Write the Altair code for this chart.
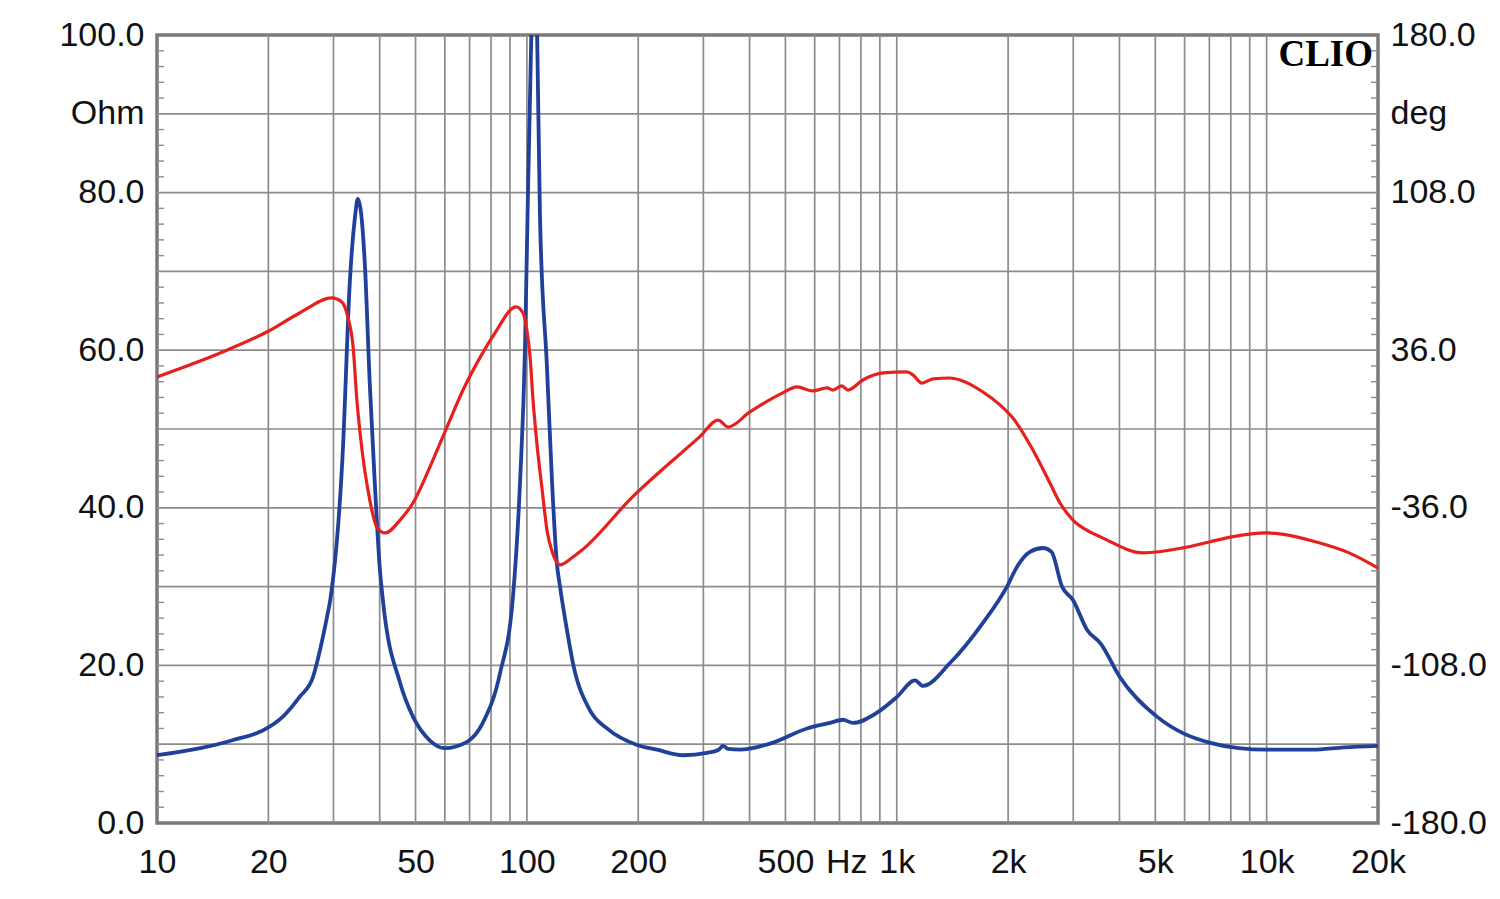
import altair as alt
import pandas as pd

# Impedance magnitude (Ohm) - blue
mag_freq = [10, 13.1, 16, 19.8, 21.9, 24.3, 26.4, 27.6, 28.8, 29.4, 31.8, 33.2, 34.3, 34.9, 35.6, 36.5, 37.6, 38.8, 40, 40.8,
            45.4, 49.2, 54.6, 60, 68.9, 76, 84.6, 91.7, 95.8, 98.8, 100.6, 102.8, 104.6, 106.6, 108.5, 113.3,
            117, 120.5, 122.9, 128.3, 133.2, 148.1, 164.7, 198.5, 224.7, 264.2, 306.9, 330, 338.9, 350, 376.8,
            462.8, 571.8, 659.8, 715.3, 761, 884, 1001, 1120, 1177, 1393, 1710, 1986, 2113, 2291, 2484, 2620,
            2797, 2995, 3271, 3555, 4012, 5051, 5937, 7000, 8400, 10000, 13300, 16200, 20000]
mag_ohm = [8.6, 9.5, 10.5, 12.0, 13.5, 16.0, 18.5, 22.0, 26.1, 28.3, 47.3, 68.5, 76.9, 79.2, 77.5, 70.6, 55.8, 43.1, 32.5, 28.3,
           17.8, 13.5, 10.5, 9.5, 10.3, 12.7, 19.0, 28.7, 43.1, 60.0, 79.1, 100, 115, 100, 76.9, 57.9,
           43.1, 33.0, 30.0, 24.5, 20.3, 14.3, 12.0, 9.9, 9.3, 8.6, 8.9, 9.3, 9.8, 9.4, 9.3,
           10.2, 12.0, 12.7, 13.1, 12.7, 14.0, 16.0, 18.1, 17.4, 20.3, 25.4, 30.0, 32.5, 34.4, 34.9, 34.4,
           30.0, 28.3, 24.5, 22.8, 18.5, 13.5, 11.4, 10.2, 9.5, 9.3, 9.3, 9.6, 9.8]

# Impedance phase (deg) - red
ph_freq = [10, 15.5, 19.8, 24.3, 29.7, 31.6, 32.8, 33.9, 34.7, 35.4, 37.6, 39.3, 41.4, 45.4, 49.2, 54.7, 60.8,
           67.2, 74.6, 82.9, 91.6, 93.5, 97.6, 100, 102, 103.9, 106.4, 110, 113.3, 117, 122.9, 133.2, 141,
           193, 293, 329, 349.8, 400.9, 492, 537,
           593.6, 647.6, 672, 710, 738, 810, 918, 1066, 1106, 1170, 1253, 1393, 1483, 1710, 1901, 2061,
           2334, 2595, 2763, 2995, 3328, 3555, 4640, 5937, 7000, 8045, 10000, 11000, 13600, 16700, 20000]
ph_deg = [23.8, 36.1, 44.3, 53.0, 59.9, 58.0, 51.2, 37.5, 13.3, -1.8, -32.4, -44.8, -47.5, -41.6, -33.8, -17.3, 0.9,
          17.8, 32.5, 45.2, 55.3, 55.8, 53.0, 45.2, 32.9, 13.3, -6.4, -27.9, -46.1, -56.0, -62.1, -58.5, -55.3,
          -31.0, -3.6, 4.1, 0.9, 7.8, 16.5, 19.2,
          17.4, 18.8, 17.8, 19.7, 17.8, 22.4, 25.6, 26.1, 24.7, 21.0, 22.9, 23.3, 22.4, 16.9, 11.0, 5.0,
          -9.6, -24.7, -33.8, -41.6, -47.0, -49.3, -56.6, -54.3, -51.6, -49.3, -47.5, -48.0, -51.6, -56.6, -63.5]

grid_freqs = [20, 30, 40, 50, 60, 70, 80, 90, 100, 200, 300, 400, 500, 600, 700, 800, 900, 1000,
              2000, 3000, 4000, 5000, 6000, 7000, 8000, 9000, 10000]
grid_ohm = [10, 20, 30, 40, 50, 60, 70, 80, 90]
minor_ohm = [v for v in range(2, 100, 2) if v % 10 != 0]

x_label_vals = [10, 20, 50, 100, 200, 500, 730, 1000, 2000, 5000, 10000, 20000]
x_label_text = ["10", "20", "50", "100", "200", "500", "Hz", "1k", "2k", "5k", "10k", "20k"]
y_label_vals = [0, 20, 40, 60, 80, 90, 100]
y_label_text = ["0.0", "20.0", "40.0", "60.0", "80.0", "Ohm", "100.0"]
r_label_vals = [-180, -108, -36, 36, 108, 144, 180]
r_label_text = ["-180.0", "-108.0", "-36.0", "36.0", "108.0", "deg", "180.0"]


def label_expr(vals, texts):
    expr = "''"
    for v, t in zip(reversed(vals), reversed(texts)):
        expr = f"abs(datum.value - ({v})) < 0.001 ? '{t}' : ({expr})"
    return expr


W, H = 1221, 788
FONT = "Liberation Sans"
FS = 34
GRID = "#8c8c8c"

mag_df = pd.DataFrame({"f": mag_freq, "ohm": mag_ohm})
ph_df = pd.DataFrame({"f": ph_freq, "deg": ph_deg})

xscale = alt.Scale(type="log", domain=[10, 20000], nice=False)
yscale = alt.Scale(domain=[0, 100], nice=False)
rscale = alt.Scale(domain=[-180, 180], nice=False)

common = dict(title=None, grid=False, ticks=False, tickSize=0, domain=False, labelFlush=False,
              labelOverlap=False, labelFont=FONT, labelFontSize=FS, labelColor="#111111")
x_axis = alt.Axis(values=x_label_vals, labelExpr=label_expr(x_label_vals, x_label_text), labelPadding=22, **common)
y_axis = alt.Axis(values=y_label_vals, labelExpr=label_expr(y_label_vals, y_label_text), labelPadding=13, **common)
r_axis = alt.Axis(values=r_label_vals, labelExpr=label_expr(r_label_vals, r_label_text), orient="right",
                  labelPadding=12, **common)

vgrid = alt.Chart(pd.DataFrame({"f": grid_freqs})).mark_rule(color=GRID, strokeWidth=1.7).encode(
    x=alt.X("f:Q", scale=xscale, axis=x_axis)
)
hgrid = alt.Chart(pd.DataFrame({"v": grid_ohm})).mark_rule(color=GRID, strokeWidth=1.7).encode(
    y=alt.Y("v:Q", scale=yscale, axis=y_axis)
)
lticks = alt.Chart(pd.DataFrame({"v": minor_ohm})).mark_rule(color=GRID, strokeWidth=1.4).encode(
    y=alt.Y("v:Q", scale=yscale, axis=y_axis), x=alt.value(0), x2=alt.value(7)
)
rticks = alt.Chart(pd.DataFrame({"v": minor_ohm})).mark_rule(color=GRID, strokeWidth=1.4).encode(
    y=alt.Y("v:Q", scale=yscale, axis=y_axis), x=alt.value(W - 7), x2=alt.value(W)
)
blue = alt.Chart(mag_df).mark_line(color="#20409a", strokeWidth=3.8, clip=True, interpolate="monotone").encode(
    x=alt.X("f:Q", scale=xscale, axis=x_axis),
    y=alt.Y("ohm:Q", scale=yscale, axis=y_axis),
)
clio = alt.Chart(pd.DataFrame({"t": ["CLIO"]})).mark_text(
    font="Liberation Serif", fontSize=37, fontWeight="bold", align="right", baseline="top", color="#000000"
).encode(text="t:N", x=alt.value(W - 5), y=alt.value(2))

left = alt.layer(vgrid, hgrid, lticks, rticks, blue, clio)

red = alt.Chart(ph_df).mark_line(color="#e5201d", strokeWidth=3.2, clip=True, interpolate="monotone").encode(
    x=alt.X("f:Q", scale=xscale, axis=x_axis),
    y=alt.Y("deg:Q", scale=rscale, axis=r_axis),
)

chart = alt.layer(left, red).resolve_scale(y="independent").properties(
    width=W, height=H,
    autosize=alt.AutoSizeParams(type="none"),
    padding={"left": 149, "top": 27, "right": 114, "bottom": 55},
    background="white",
).configure_view(stroke="#7a7a7a", strokeWidth=3.5)

chart.save("out.html", embed_options={"renderer": "svg", "actions": False})
